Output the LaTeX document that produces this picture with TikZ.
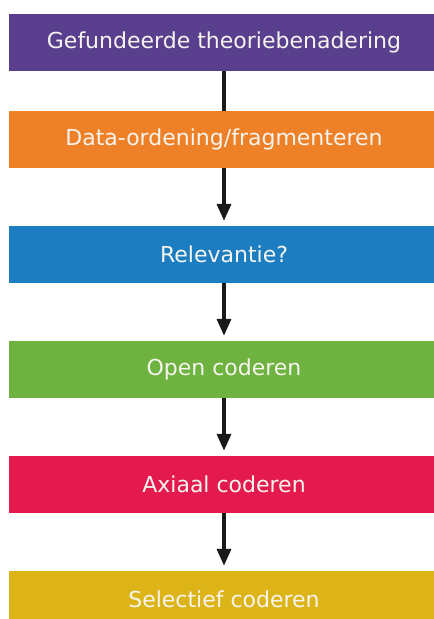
\documentclass[tikz,border=0pt]{standalone}
\usepackage{fontspec}
\setmainfont{DejaVu Sans}
\usetikzlibrary{arrows.meta}
\definecolor{cpurple}{HTML}{5A3F8F}
\definecolor{corange}{HTML}{EE8027}
\definecolor{cblue}{HTML}{1C7DC1}
\definecolor{cgreen}{HTML}{6EB23F}
\definecolor{cred}{HTML}{E41A4F}
\definecolor{cyellow}{HTML}{DDB417}
\definecolor{ctext}{HTML}{F6F4EE}
\tikzset{
  stepbox/.style={rectangle, draw=none, minimum width=430pt, minimum height=57pt,
    inner sep=0pt, text=ctext, font=\fontsize{22pt}{26pt}\selectfont},
  link/.style={line width=3.6pt, black!90},
  flow/.style={link, -{Triangle[length=17pt,width=14pt]}, shorten >=5pt},
}
\begin{document}
\begin{tikzpicture}[x=1pt,y=-1pt]
\useasboundingbox (0,0) rectangle (434,619);
\clip (0,0) rectangle (434,619);
\fill[white] (0,0) rectangle (434,619);
\node[stepbox, fill=cpurple] (b1) at (224,42) {Gefundeerde theoriebenadering};
\node[stepbox, fill=corange] (b2) at (224,139.5) {Data-ordening/fragmenteren};
\node[stepbox, fill=cblue]   (b3) at (224,254.5) {Relevantie?};
\node[stepbox, fill=cgreen]  (b4) at (224,369.5) {Open coderen};
\node[stepbox, fill=cred]    (b5) at (224,484.5) {Axiaal coderen};
\node[stepbox, fill=cyellow] (b6) at (224,599.5) {Selectief coderen};
\draw[link] (b1.south) -- (b2.north);
\draw[flow] (b2.south) -- (b3.north);
\draw[flow] (b3.south) -- (b4.north);
\draw[flow] (b4.south) -- (b5.north);
\draw[flow] (b5.south) -- (b6.north);
\end{tikzpicture}
\end{document}
